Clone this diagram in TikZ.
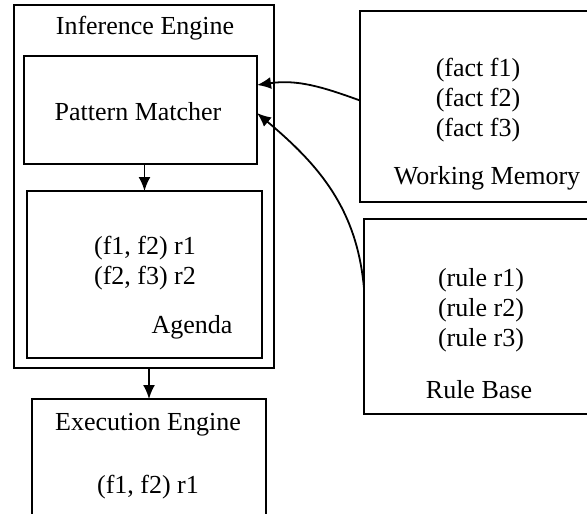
\documentclass[tikz,border=0pt]{standalone}
\usepackage{fontspec}
\setmainfont{Liberation Serif}
\usetikzlibrary{arrows.meta}
\begin{document}
\begin{tikzpicture}[x=1pt,y=-1pt,
  box/.style={draw=black,line width=2.3pt,inner sep=0pt,outer sep=0pt},
  lbl/.style={inner sep=0pt,font=\fontsize{26}{30}\selectfont,align=center},
  arr/.style={line width=1.8pt,-{Latex[length=14pt,width=12pt]}}]
\useasboundingbox (0,0) rectangle (587,514);
\clip (0,0) rectangle (587,514);
\fill[white] (0,0) rectangle (587,514);
% boxes
\node[box,minimum width=260,minimum height=363] (ie) at (144,186.5) {};
\node[box,minimum width=233,minimum height=108] (pm) at (140.5,110) {};
\node[box,minimum width=235,minimum height=167] (ag) at (144.5,274.5) {};
\node[box,minimum width=234,minimum height=131] (ee) at (149,464.5) {};
\node[box,minimum width=240,minimum height=191] (wm) at (480,106.5) {};
\node[box,minimum width=236,minimum height=195] (rb) at (482,316.5) {};
% texts
\node[lbl] (ieT) at (145,28) {Inference Engine};
\node[lbl] (pmT) at (138,112) {Pattern Matcher};
\node[lbl] (agL) at (145,263) {(f1, f2) r1\\(f2, f3) r2};
\node[lbl] (agT) at (192,327) {Agenda};
\node[lbl] (eeT) at (148,425) {Execution Engine};
\node[lbl] (eeL) at (148,487) {(f1, f2) r1};
\node[lbl] (wmL) at (478,100) {(fact f1)\\(fact f2)\\(fact f3)};
\node[lbl] (wmT) at (487,178) {Working Memory};
\node[lbl] (rbL) at (481,310) {(rule r1)\\(rule r2)\\(rule r3)};
\node[lbl] (rbT) at (479,390) {Rule Base};
% connectors
\draw[arr] (pm.south -| ag.north) -- (ag.north);
\draw[arr] (ie.south -| ee.north) -- (ee.north);
\draw[arr] ([yshift=6pt]wm.west) to[out=160,in=8] ([yshift=25pt]pm.east);
\draw[arr] ([yshift=28pt]rb.west) to[out=95,in=-40] ([yshift=-3pt]pm.east);
\end{tikzpicture}
\end{document}
